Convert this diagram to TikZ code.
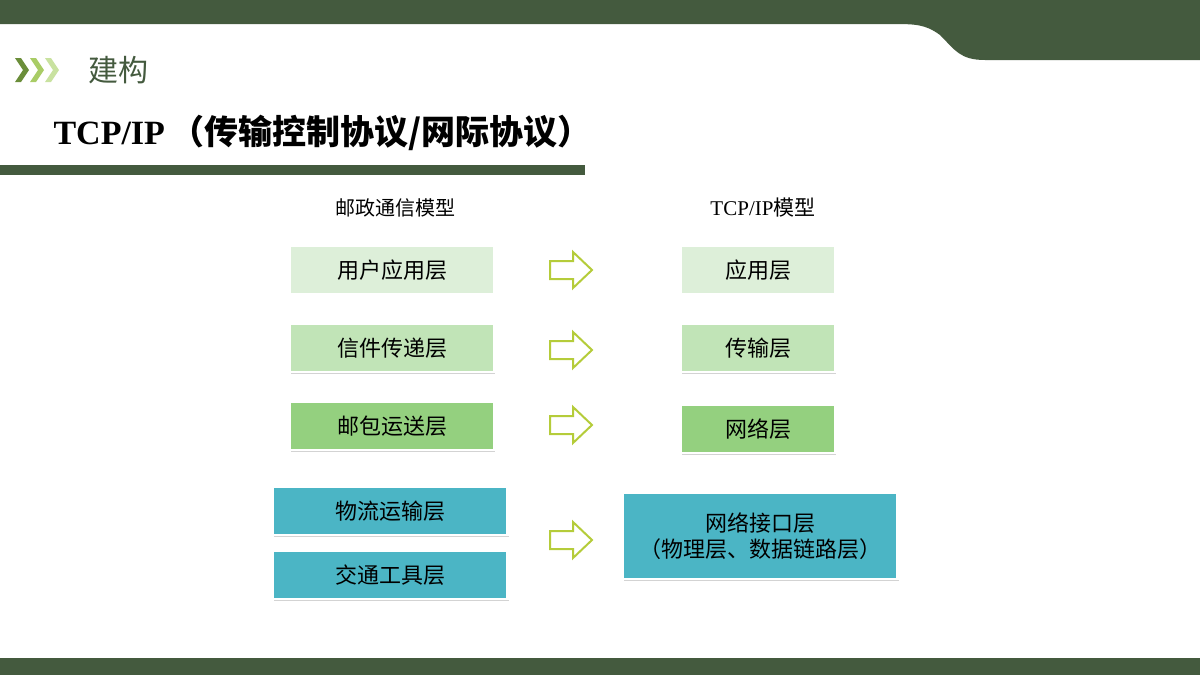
\documentclass[tikz,border=0pt]{standalone}
\usepackage{fontspec}
\setmainfont{Liberation Serif}
\newfontfamily\cjk{Noto Sans CJK SC}
\usetikzlibrary{shadows}
\definecolor{dg}{HTML}{445A3E}
\definecolor{ca}{HTML}{DDEFD9}
\definecolor{cb}{HTML}{C1E4B7}
\definecolor{cc}{HTML}{94D07F}
\definecolor{ct}{HTML}{4BB5C5}
\definecolor{ar}{HTML}{B5CC3A}
\begin{document}
\begin{tikzpicture}[x=1pt,y=-1pt,
 box/.style={draw=white,line width=2.5pt,drop shadow={shadow xshift=1pt,shadow yshift=-1.5pt,opacity=0.35},font=\cjk\fontsize{22}{26}\selectfont,inner sep=0pt,align=center},
 arr/.style={draw=ar,line width=2pt,fill=white,line join=miter}]
\useasboundingbox (0,0) rectangle (1200,675);
\fill[dg] (0,0) -- (1200,0) -- (1200,60) -- (985,60) .. controls (960,60) and (955,50) .. (940,35) .. controls (925,24) and (915,24) .. (890,24) -- (0,24) -- cycle;
\fill[dg] (0,658) rectangle (1200,675);
\fill[dg] (0,165) rectangle (585,175);
\foreach \x/\c in {15/6B8E3A,30/A9CC66,45/C9E2A0}{
 \definecolor{tmp}{HTML}{\c}
 \fill[tmp] (\x,58) -- (\x+6,58) -- (\x+14,70) -- (\x+6,82) -- (\x,82) -- (\x+8,70) -- cycle;}
\node[anchor=west,text=dg,font=\cjk\fontsize{30}{34}\selectfont] (t1) at (85,70) {建构};
\node[anchor=west,font=\fontsize{34}{38}\selectfont\bfseries] (t2) at (50,133) {TCP/IP\,{\cjk （传输控制协议/网际协议）}};
\node[font=\cjk\fontsize{20}{24}\selectfont] (h1) at (395,208) {邮政通信模型};
\node[font=\fontsize{21}{24}\selectfont] (h2) at (763,208) {TCP/IP{\cjk 模型}};
\node[box,fill=ca,minimum width=204pt,minimum height=49pt] (l1) at (392,270) {用户应用层};
\node[box,fill=cb,minimum width=204pt,minimum height=48pt] (l2) at (392,348) {信件传递层};
\node[box,fill=cc,minimum width=204pt,minimum height=48pt] (l3) at (392,426) {邮包运送层};
\node[box,fill=ct,minimum width=235pt,minimum height=48pt] (l4) at (390,511) {物流运输层};
\node[box,fill=ct,minimum width=235pt,minimum height=48pt] (l5) at (390,575) {交通工具层};
\node[box,fill=ca,minimum width=154pt,minimum height=49pt] (r1) at (758,270) {应用层};
\node[box,fill=cb,minimum width=154pt,minimum height=48pt] (r2) at (758,348) {传输层};
\node[box,fill=cc,minimum width=154pt,minimum height=48pt] (r3) at (758,429) {网络层};
\node[box,fill=ct,minimum width=275pt,minimum height=86pt] (r4) at (760,536) {网络接口层\\（物理层、数据链路层）};
\foreach \y in {270,350,425,540}{
 \draw[arr] (550,\y-9) -- (573,\y-9) -- (573,\y-18) -- (592,\y) -- (573,\y+18) -- (573,\y+9) -- (550,\y+9) -- cycle;}
\end{tikzpicture}
\end{document}
